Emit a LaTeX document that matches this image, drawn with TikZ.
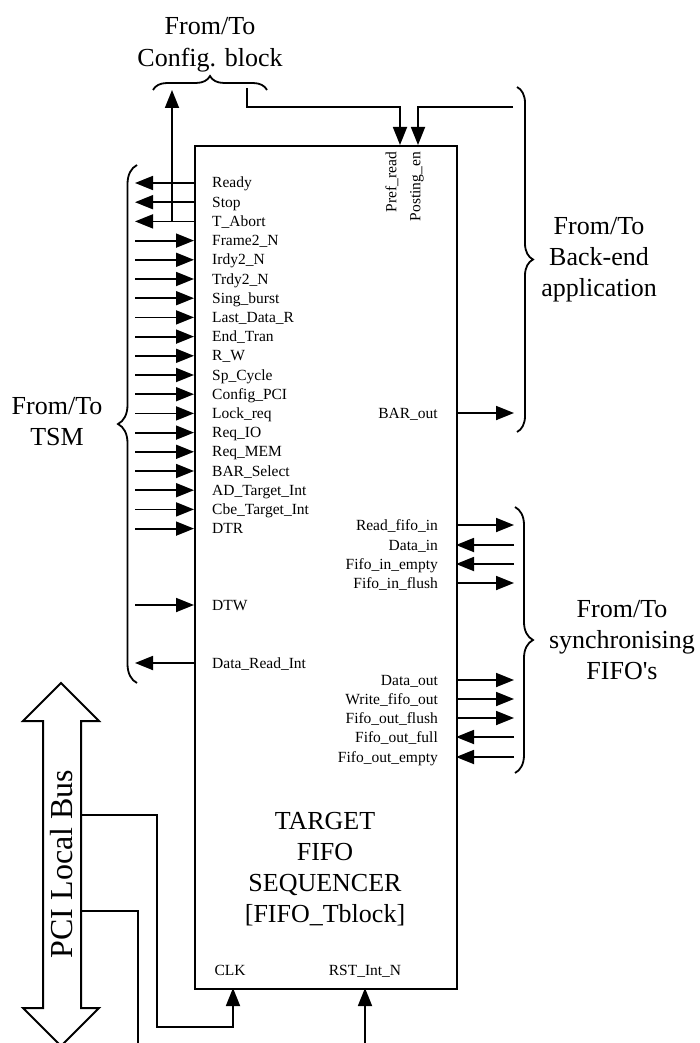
\documentclass[tikz,border=0pt]{standalone}
\usepackage{fontspec}
\setmainfont{Liberation Serif}
\usetikzlibrary{arrows.meta,decorations.pathreplacing}
\tikzset{
  sig/.style={line width=1.8pt, -{Triangle[length=18pt,width=14pt]}},
  wire/.style={line width=1.8pt},
  lbl/.style={font=\fontsize{15.5}{18}\selectfont, inner sep=0pt},
  big/.style={font=\fontsize{26}{31}\selectfont, inner sep=0pt, anchor=base},
  brc/.style={line width=1.8pt, decorate, decoration={brace, amplitude=#1}},
}
\begin{document}
\begin{tikzpicture}[x=1pt,y=-1pt]
\useasboundingbox (0,0) rectangle (699,1043);
% main block
\node[draw, line width=2.2pt, minimum width=262pt, minimum height=843pt, inner sep=0pt, anchor=north west] (box) at (194,145) {};
\node[big] (t1) at (325,829) {TARGET};
\node[big] (t2) at (325,860) {FIFO};
\node[big] (t3) at (325,891) {SEQUENCER};
\node[big] (t4) at (325,922) {[FIFO\_Tblock]};
% left outputs
\foreach \lab [count=\i from 0] in {Ready,Stop,T\_Abort}{
  \coordinate (L\i) at (135,{183+19.2*\i});
  \coordinate (B\i) at (194,{183+19.2*\i});
  \node[lbl, anchor=base west] (lt\i) at (212,{188+19.2*\i}) {\lab};
  \draw[sig] (B\i) -- (L\i);
}
% left inputs
\foreach \lab [count=\i from 3] in {Frame2\_N,Irdy2\_N,Trdy2\_N,Sing\_burst,Last\_Data\_R,End\_Tran,R\_W,Sp\_Cycle,Config\_PCI,Lock\_req,Req\_IO,Req\_MEM,BAR\_Select,AD\_Target\_Int,Cbe\_Target\_Int,DTR}{
  \coordinate (L\i) at (135,{183+19.2*\i});
  \coordinate (B\i) at (194,{183+19.2*\i});
  \node[lbl, anchor=base west] (lt\i) at (212,{188+19.2*\i}) {\lab};
  \draw[sig] (L\i) -- (B\i);
}
\coordinate (Ldtw) at (135,605); \coordinate (Bdtw) at (194,605);
\node[lbl, anchor=base west] (ltdtw) at (212,610) {DTW};
\draw[sig] (Ldtw) -- (Bdtw);
\coordinate (Ldri) at (135,663); \coordinate (Bdri) at (194,663);
\node[lbl, anchor=base west] (ltdri) at (212,668) {Data\_Read\_Int};
\draw[sig] (Bdri) -- (Ldri);
% right signals
\foreach \y/\lab/\d [count=\k] in {413/BAR\_out/1, 525/Read\_fifo\_in/1, 545/Data\_in/0, 564/Fifo\_in\_empty/0, 583/Fifo\_in\_flush/1, 680/Data\_out/1, 699/Write\_fifo\_out/1, 718/Fifo\_out\_flush/1, 737/Fifo\_out\_full/0, 757/Fifo\_out\_empty/0}{
  \node[lbl, anchor=base east] (rt\k) at (438,\y+5) {\lab};
  \coordinate (RB\k) at (456,\y);
  \coordinate (RE\k) at (514,\y);
  \ifnum\d=1 \draw[sig] (RB\k) -- (RE\k); \else \draw[sig] (RE\k) -- (RB\k); \fi
}
% config block
\coordinate (cfgA) at (172,221.4);
\coordinate (cfgT) at (172,90);
\draw[sig] (cfgA) -- (cfgT);
\draw[brc=14pt] (153,90) -- (267,90);
\node[big] (cfg1) at (210,35) {From/To};
\node[big] (cfg2) at (210,67) {Config. block};
\coordinate (prS) at (247,88);
\coordinate (prE) at (400,145);
\draw[sig] (prS) |- (400,107) -- (prE);
\coordinate (peS) at (513,107);
\coordinate (peE) at (418,145);
\draw[sig] (peS) -| (peE);
\node[lbl, rotate=90, anchor=east] (pref) at (392,152) {Pref\_read};
\node[lbl, rotate=90, anchor=east] (post) at (417,152) {Posting\_en};
% back-end brace
\draw[brc=16pt] (517,87) -- (517,432);
\node[big] (be1) at (599,234) {From/To};
\node[big] (be2) at (599,265) {Back-end};
\node[big] (be3) at (599,296) {application};
% sync brace
\draw[brc=18pt] (515,507) -- (515,773);
\node[big] (sy1) at (622,617) {From/To};
\node[big] (sy2) at (622,648) {synchronising};
\node[big] (sy3) at (622,679) {FIFO\textquotesingle s};
% TSM brace
\draw[brc=19pt] (137,683) -- (137,165);
\node[big] (ts1) at (57,414) {From/To};
\node[big] (ts2) at (57,445) {TSM};
% PCI bus
\draw[line width=2pt, line join=miter] (61,683) -- (99,721) -- (81,721) -- (81,1008) -- (99,1008) -- (61,1046) -- (23,1008) -- (43,1008) -- (43,721) -- (23,721) -- cycle;
\node[font=\fontsize{32}{36}\selectfont, rotate=90, inner sep=0pt] (pci) at (62,864) {PCI Local Bus};
\coordinate (bus1) at (81,815);
\coordinate (bus2) at (81,911);
% CLK and reset
\node[lbl, anchor=base] (clk) at (230,975) {CLK};
\node[lbl, anchor=base] (rst) at (365,975) {RST\_Int\_N};
\coordinate (clkE) at (233,988);
\draw[sig] (bus1) -- (157,815) -- (157,1027) -| (clkE);
\coordinate (bus2E) at (138,1043);
\draw[wire] (bus2) -| (bus2E);
\coordinate (rstS) at (365,1043);
\coordinate (rstE) at (365,988);
\draw[sig] (rstS) -- (rstE);
\end{tikzpicture}
\end{document}
